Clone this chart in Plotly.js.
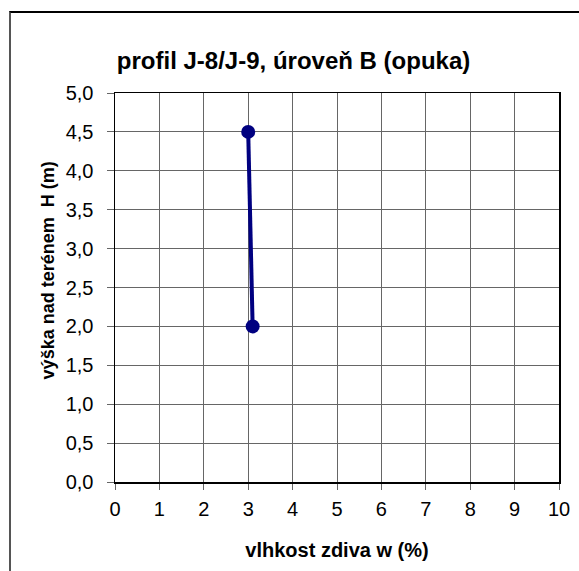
<!DOCTYPE html>
<html><head><meta charset="utf-8">
<script src="https://cdn.plot.ly/plotly-3.0.1.min.js"></script>
<style>
html,body{margin:0;padding:0;background:#fff;}
#wrap{position:relative;width:579px;height:571px;overflow:hidden;}
#frame{position:absolute;left:9px;top:11px;width:600px;height:600px;border-top:2px solid #000;border-left:2px solid #555;box-sizing:border-box;pointer-events:none;}
#chart{position:absolute;left:0;top:0;width:579px;height:571px;}
</style></head>
<body><div id="wrap"><div id="chart"></div><div id="frame"></div></div>
<script>
const moisture = [3.0, 3.1];
const height = [4.5, 2.0];
const titleText = 'profil J-8/J-9, úroveň B (opuka)';
const xTitle = 'vlhkost zdiva w (%)';
const yTitle = 'výška nad terénem  H (m)';

const font = 'Liberation Sans, Arial, sans-serif';
Plotly.newPlot('chart', [{
  x: moisture, y: height, type: 'scatter', mode: 'lines+markers',
  line: {color: '#000080', width: 4},
  marker: {color: '#000080', size: 14},
  hoverinfo: 'none'
}], {
  width: 579, height: 571,
  margin: {l: 115, r: 20, t: 93, b: 89, pad: 0},
  paper_bgcolor: 'rgba(0,0,0,0)', plot_bgcolor: '#fff',
  separators: ',.',
  showlegend: false,
  title: {text: titleText, font: {family: font, size: 24, color: '#000', weight: 'bold'}, x: 0.507, xanchor: 'center', y: 0.893, yanchor: 'middle'},
  xaxis: {
    range: [0, 10], dtick: 1, tick0: 0, fixedrange: true,
    showline: true, linecolor: '#000', linewidth: 1.5, mirror: true,
    showgrid: true, gridcolor: '#666', gridwidth: 1, zeroline: false,
    ticks: 'outside', ticklen: 6, tickcolor: '#666', ticklabelstandoff: 2,
    tickfont: {family: font, size: 20, color: '#000'},
    title: {text: xTitle, font: {family: font, size: 20, color: '#000', weight: 'bold'}, standoff: 24}
  },
  yaxis: {
    range: [0, 5], dtick: 0.5, tick0: 0, tickformat: '.1f', fixedrange: true,
    showline: true, linecolor: '#000', linewidth: 1.5, mirror: true,
    showgrid: true, gridcolor: '#666', gridwidth: 1, zeroline: false,
    ticks: 'outside', ticklen: 7, tickcolor: '#666', ticklabelstandoff: 9,
    tickfont: {family: font, size: 20, color: '#000'}
  },
  annotations: [{
    text: yTitle, xref: 'paper', yref: 'paper', x: -0.15, y: 0.545,
    xanchor: 'center', yanchor: 'middle', textangle: -90, showarrow: false,
    font: {family: font, size: 18, color: '#000', weight: 'bold'}
  }]
}, {staticPlot: true});
</script></body></html>
